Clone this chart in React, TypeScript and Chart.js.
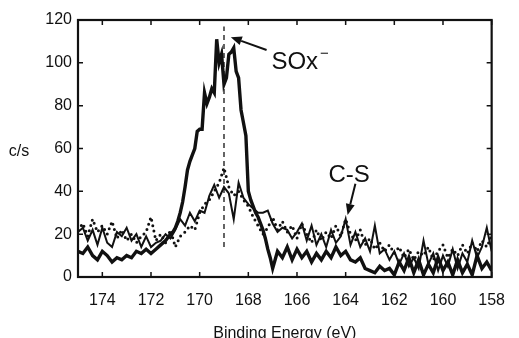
import React, { useEffect, useRef } from "react";
import { Chart, registerables } from "chart.js";

Chart.register(...registerables);

const FONT = '"Liberation Sans", Arial, Helvetica, sans-serif';
const INK = "#111111";

const xTicks = [174, 172, 170, 168, 166, 164, 162, 160, 158];
const yTicks = [0, 20, 40, 60, 80, 100, 120];

// thick solid spectrum [binding energy eV, counts/s]
const thickSpectrum: [number, number][] = [
  [175.0, 12], [174.8, 11], [174.6, 14], [174.4, 10], [174.2, 8], [174.0, 12], [173.8, 10],
  [173.6, 7], [173.4, 9], [173.2, 8], [173.0, 10], [172.8, 9], [172.6, 12], [172.4, 11],
  [172.2, 13], [172.0, 11], [171.8, 13], [171.6, 15], [171.4, 17], [171.2, 20], [171.1, 21],
  [171.0, 23], [170.9, 26], [170.8, 30], [170.7, 35], [170.6, 42], [170.5, 50], [170.4, 54],
  [170.3, 57], [170.2, 60], [170.1, 68], [170.0, 69], [169.9, 69], [169.8, 86], [169.7, 81],
  [169.6, 84], [169.5, 88], [169.4, 86], [169.3, 111], [169.2, 100], [169.1, 104], [169.0, 90],
  [168.9, 93], [168.8, 104], [168.7, 105], [168.6, 107], [168.5, 96], [168.4, 93], [168.3, 78],
  [168.2, 72], [168.1, 66], [168.0, 40], [167.9, 36], [167.8, 33], [167.7, 30], [167.6, 28],
  [167.5, 25], [167.4, 22], [167.3, 18], [167.2, 13], [167.1, 9], [167.0, 4], [166.8, 12],
  [166.6, 9], [166.4, 14], [166.2, 8], [166.0, 13], [165.8, 9], [165.6, 12], [165.4, 7],
  [165.2, 11], [165.0, 8], [164.8, 12], [164.6, 9], [164.4, 14], [164.2, 10], [164.0, 12],
  [163.8, 8], [163.6, 7], [163.4, 9], [163.2, 4], [163.0, 3], [162.8, 2], [162.6, 5],
  [162.4, 3], [162.2, 4], [162.0, 1], [161.8, 7], [161.6, 3], [161.4, 9], [161.2, 2],
  [161.0, 8], [160.8, 1], [160.6, 6], [160.4, 2], [160.2, 9], [160.0, 3], [159.8, 7],
  [159.6, 1], [159.4, 8], [159.2, 2], [159.0, 6], [158.8, 1], [158.6, 10], [158.4, 4],
  [158.2, 7], [158.0, 3],
];

// thin solid spectrum
const thinSpectrum: [number, number][] = [
  [175.0, 21], [174.8, 23], [174.6, 17], [174.4, 22], [174.2, 15], [174.0, 23], [173.8, 16],
  [173.6, 14], [173.4, 21], [173.2, 19], [173.0, 23], [172.8, 17], [172.6, 20], [172.4, 14],
  [172.2, 19], [172.0, 14], [171.8, 16], [171.6, 17], [171.4, 20], [171.2, 18], [171.0, 22],
  [170.8, 27], [170.6, 24], [170.4, 30], [170.2, 26], [170.0, 31], [169.8, 30], [169.6, 38],
  [169.4, 43], [169.2, 37], [169.0, 42], [168.8, 39], [168.6, 27], [168.4, 44], [168.2, 37],
  [168.0, 34], [167.8, 32], [167.6, 30], [167.4, 30], [167.2, 31], [167.0, 25], [166.8, 21],
  [166.6, 23], [166.4, 22], [166.2, 18], [166.0, 21], [165.8, 25], [165.6, 17], [165.4, 24],
  [165.2, 15], [165.0, 20], [164.8, 14], [164.6, 22], [164.4, 16], [164.2, 19], [164.0, 27],
  [163.8, 15], [163.6, 21], [163.4, 14], [163.2, 18], [163.0, 12], [162.8, 24], [162.6, 11],
  [162.4, 13], [162.2, 8], [162.0, 12], [161.8, 6], [161.6, 11], [161.4, 5], [161.2, 9],
  [161.0, 4], [160.8, 17], [160.6, 6], [160.4, 11], [160.2, 3], [160.0, 10], [159.8, 5],
  [159.6, 13], [159.4, 4], [159.2, 11], [159.0, 7], [158.8, 17], [158.6, 9], [158.4, 14],
  [158.2, 23], [158.0, 12],
];

// dotted spectrum
const dottedSpectrum: [number, number][] = [
  [175.0, 22], [174.8, 25], [174.6, 19], [174.4, 27], [174.2, 21], [174.0, 24], [173.8, 20],
  [173.6, 26], [173.4, 18], [173.2, 22], [173.0, 17], [172.8, 20], [172.6, 16], [172.4, 19],
  [172.2, 21], [172.0, 28], [171.8, 17], [171.6, 20], [171.4, 16], [171.2, 22], [171.0, 14],
  [170.8, 19], [170.6, 21], [170.4, 24], [170.2, 22], [170.0, 30], [169.8, 34], [169.6, 36],
  [169.4, 40], [169.2, 44], [169.0, 51], [168.8, 42], [168.6, 38], [168.4, 40], [168.2, 36],
  [168.0, 33], [167.8, 28], [167.6, 24], [167.4, 20], [167.2, 23], [167.0, 28], [166.8, 22],
  [166.6, 26], [166.4, 21], [166.2, 24], [166.0, 18], [165.8, 25], [165.6, 20], [165.4, 16],
  [165.2, 22], [165.0, 17], [164.8, 21], [164.6, 18], [164.4, 24], [164.2, 19], [164.0, 27],
  [163.8, 20], [163.6, 17], [163.4, 22], [163.2, 15], [163.0, 18], [162.8, 13], [162.6, 16],
  [162.4, 12], [162.2, 15], [162.0, 11], [161.8, 14], [161.6, 9], [161.4, 13], [161.2, 8],
  [161.0, 12], [160.8, 10], [160.6, 14], [160.4, 8], [160.2, 12], [160.0, 15], [159.8, 9],
  [159.6, 13], [159.4, 10], [159.2, 15], [159.0, 11], [158.8, 16], [158.6, 12], [158.4, 17],
  [158.2, 14], [158.0, 19],
];

// dashed reference line at the SOx- position
const referenceLine: [number, number][] = [[169.0, 14], [169.0, 117]];

// annotations: text anchor and arrow [tail -> tip] in data coordinates
const soxLabel = { text: "SOx", sup: "\u2212", at: [167.05, 97] as [number, number] };
const soxArrow = { from: [167.25, 106] as [number, number], to: [168.72, 112] as [number, number] };
const csLabel = { text: "C-S", at: [163.86, 44.3] as [number, number] };
const csArrow = { from: [163.6, 43.5] as [number, number], to: [163.92, 29] as [number, number] };

const toPts = (arr: [number, number][]) => arr.map(([x, y]) => ({ x, y }));

function drawArrow(ctx: CanvasRenderingContext2D, x1: number, y1: number, x2: number, y2: number, head: number, half: number) {
  const ang = Math.atan2(y2 - y1, x2 - x1);
  const bx = x2 - head * Math.cos(ang);
  const by = y2 - head * Math.sin(ang);
  ctx.beginPath();
  ctx.moveTo(x1, y1);
  ctx.lineTo(bx, by);
  ctx.stroke();
  ctx.beginPath();
  ctx.moveTo(x2, y2);
  ctx.lineTo(bx + half * Math.sin(ang), by - half * Math.cos(ang));
  ctx.lineTo(bx - half * Math.sin(ang), by + half * Math.cos(ang));
  ctx.closePath();
  ctx.fill();
}

const decorPlugin = {
  id: "decor",
  afterDatasetsDraw(chart: any) {
    const { ctx, chartArea: a, scales } = chart;
    const x = scales.x;
    const y = scales.y;
    ctx.save();
    ctx.strokeStyle = INK;
    ctx.fillStyle = INK;
    ctx.lineWidth = 2.2;
    ctx.strokeRect(a.left, a.top, a.right - a.left, a.bottom - a.top);
    ctx.lineWidth = 1.5;
    ctx.beginPath();
    for (const v of xTicks) {
      const px = x.getPixelForValue(v);
      ctx.moveTo(px, a.bottom);
      ctx.lineTo(px, a.bottom - 5);
      ctx.moveTo(px, a.top);
      ctx.lineTo(px, a.top + 5);
    }
    for (const v of yTicks) {
      const py = y.getPixelForValue(v);
      ctx.moveTo(a.left, py);
      ctx.lineTo(a.left + 5, py);
      ctx.moveTo(a.right, py);
      ctx.lineTo(a.right - 5, py);
    }
    ctx.stroke();

    // arrows
    ctx.lineWidth = 2;
    drawArrow(ctx, x.getPixelForValue(soxArrow.from[0]), y.getPixelForValue(soxArrow.from[1]),
      x.getPixelForValue(soxArrow.to[0]), y.getPixelForValue(soxArrow.to[1]), 11, 4.5);
    drawArrow(ctx, x.getPixelForValue(csArrow.from[0]), y.getPixelForValue(csArrow.from[1]),
      x.getPixelForValue(csArrow.to[0]), y.getPixelForValue(csArrow.to[1]), 11, 4.5);

    // annotation text
    ctx.font = `24px ${FONT}`;
    ctx.textBaseline = "alphabetic";
    ctx.textAlign = "left";
    const sx = x.getPixelForValue(soxLabel.at[0]);
    const sy = y.getPixelForValue(soxLabel.at[1]);
    ctx.fillText(soxLabel.text, sx, sy);
    const w = ctx.measureText(soxLabel.text).width;
    ctx.font = `15px ${FONT}`;
    ctx.fillText(soxLabel.sup, sx + w + 2, sy - 11);
    ctx.font = `24px ${FONT}`;
    ctx.textAlign = "center";
    ctx.fillText(csLabel.text, x.getPixelForValue(csLabel.at[0]), y.getPixelForValue(csLabel.at[1]));

    // axis titles
    ctx.font = `16px ${FONT}`;
    ctx.textAlign = "center";
    ctx.fillText("Binding Energy (eV)", (a.left + a.right) / 2, 338);
    ctx.fillText("c/s", 19, 156);
    ctx.restore();
  },
};

export default function App() {
  const ref = useRef<HTMLCanvasElement | null>(null);
  useEffect(() => {
    if (!ref.current) return;
    const chart = new Chart(ref.current, {
      type: "scatter",
      data: {
        datasets: [
          {
            data: toPts(thickSpectrum),
            showLine: true,
            borderColor: INK,
            borderWidth: 3.4,
            pointRadius: 0,
            tension: 0,
          },
          {
            data: toPts(thinSpectrum),
            showLine: true,
            borderColor: INK,
            borderWidth: 2,
            pointRadius: 0,
            tension: 0,
          },
          {
            data: toPts(dottedSpectrum),
            showLine: true,
            borderColor: INK,
            borderWidth: 3,
            borderDash: [0, 5.5],
            borderCapStyle: "round",
            pointRadius: 0,
            tension: 0,
          },
          {
            data: toPts(referenceLine),
            showLine: true,
            borderColor: INK,
            borderWidth: 1.3,
            borderDash: [5, 4],
            pointRadius: 0,
          },
        ] as any,
      },
      options: {
        animation: false,
        responsive: false,
        events: [],
        layout: { padding: { top: 20, right: 16, left: 0, bottom: 0 } },
        plugins: {
          legend: { display: false },
          tooltip: { enabled: false },
          title: { display: false },
        },
        scales: {
          x: {
            type: "linear",
            reverse: true,
            min: 158,
            max: 175,
            grid: { display: false, drawTicks: false },
            border: { display: false },
            afterBuildTicks: (s: any) => {
              s.ticks = xTicks.map((v) => ({ value: v }));
            },
            afterFit: (s: any) => {
              s.height = 61;
            },
            ticks: {
              font: { family: FONT, size: 16 },
              color: INK,
              padding: 14,
              maxRotation: 0,
              autoSkip: false,
            },
          },
          y: {
            type: "linear",
            min: 0,
            max: 120,
            grid: { display: false, drawTicks: false },
            border: { display: false },
            afterBuildTicks: (s: any) => {
              s.ticks = yTicks.map((v) => ({ value: v }));
            },
            afterFit: (s: any) => {
              s.width = 78;
            },
            ticks: {
              font: { family: FONT, size: 16 },
              color: INK,
              padding: 6,
              autoSkip: false,
            },
          },
        },
      } as any,
      plugins: [decorPlugin],
    });
    return () => chart.destroy();
  }, []);

  return (
    <div style={{ position: "fixed", left: 0, top: 0, width: 519, height: 338, background: "#fff" }}>
      <canvas ref={ref} width={519} height={338} style={{ display: "block" }} />
    </div>
  );
}
